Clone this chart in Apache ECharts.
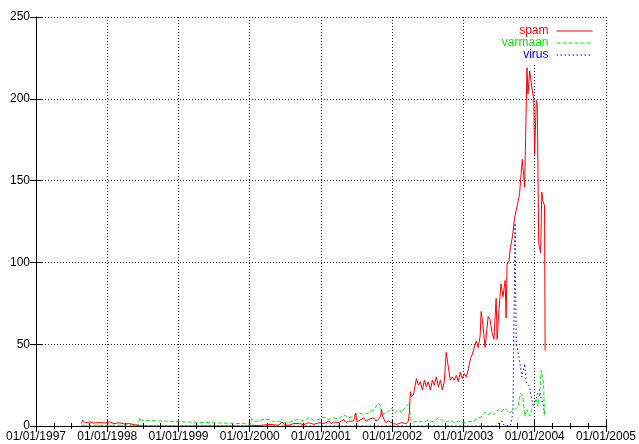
<!DOCTYPE html>
<html><head><meta charset="utf-8">
<script src="https://cdn.jsdelivr.net/npm/echarts@6/dist/echarts.min.js"></script>
<style>html,body{margin:0;padding:0;background:#fff}#c{width:639px;height:444px}</style>
</head><body><div id="c"></div>
<script>
const xTickLabels = ['01/01/1997','01/01/1998','01/01/1999','01/01/2000','01/01/2001','01/01/2002','01/01/2003','01/01/2004','01/01/2005'];
const yTickValues = [0, 50, 100, 150, 200, 250];
const seriesNames = ['spam', 'varmaan', 'virus'];

const spam = [
['1997-08-22',1.5],['1997-08-28',3.5],['1997-09-10',2],['1997-10-03',2.5],['1997-10-25',1.8],['1997-11-23',2.2],['1997-12-20',1.8],
['1998-01-13',2.5],['1998-02-05',1.5],['1998-03-05',2],['1998-04-01',1.2],['1998-04-25',1.5],['1998-05-20',0.8],['1998-06-15',0.3],['1998-07-01',0],
['1999-06-01',0],['1999-12-20',0],['2000-01-13',0.5],['2000-02-17',0.2],['2000-04-10',1],['2000-05-31',0.5],['2000-06-15',2.5],['2000-06-29',0.5],
['2000-07-21',0.5],['2000-08-15',1.5],['2000-09-10',1.5],['2000-10-05',0.8],['2000-10-31',2],['2000-11-25',1],['2000-12-21',2],
['2001-01-16',1.5],['2001-02-10',3],['2001-02-24',1.5],['2001-03-07',2.5],['2001-04-02',2],['2001-04-27',4],['2001-05-10',2],['2001-05-23',3],
['2001-06-17',3],['2001-06-28',8],['2001-07-05',2.5],['2001-07-13',3],['2001-08-08',5],['2001-08-20',3],['2001-09-02',4],['2001-09-28',5],
['2001-10-10',3],['2001-10-23',4],['2001-11-02',6],['2001-11-08',10],['2001-11-13',6],['2001-11-28',2],['2001-12-13',3],
['2002-01-09',1.5],['2002-01-24',1],['2002-02-18',2],['2002-03-15',1.5],['2002-03-25',3],['2002-03-30',8],['2002-04-04',21],['2002-04-09',18],
['2002-04-20',19],['2002-04-27',18],['2002-05-05',29],['2002-05-15',25],['2002-05-25',27],['2002-06-05',22],['2002-06-15',28],['2002-06-25',24],
['2002-07-05',27],['2002-07-16',22],['2002-07-26',28],['2002-08-05',25],['2002-08-15',30],['2002-08-26',24],['2002-09-05',28],['2002-09-15',22],
['2002-09-25',27],['2002-10-05',45],['2002-10-16',36],['2002-10-26',28],['2002-11-05',30],['2002-11-15',28],['2002-11-26',31],['2002-12-06',27],
['2002-12-16',33],['2002-12-26',29],['2003-01-06',32],['2003-01-16',30],['2003-01-27',35],['2003-02-06',41],['2003-02-16',44],['2003-02-26',48],
['2003-03-08',52],['2003-03-18',48],['2003-03-28',55],['2003-04-02',70],['2003-04-12',61],['2003-04-22',48],['2003-05-08',67],['2003-05-18',65],
['2003-05-28',57],['2003-06-07',53],['2003-06-12',65],['2003-06-18',78],['2003-06-23',53],['2003-07-03',72],['2003-07-13',87],['2003-07-23',79],
['2003-08-03',89],['2003-08-08',66],['2003-08-13',99],['2003-08-23',101],['2003-08-30',109],['2003-09-10',116],['2003-09-20',127],['2003-09-29',128],
['2003-10-08',137],['2003-10-16',142],['2003-10-30',163],['2003-11-11',146],['2003-11-23',219],['2003-11-28',203],['2003-12-07',217],['2003-12-15',210],
['2003-12-23',203],['2003-12-28',200],['2004-01-01',166],['2004-01-10',199],['2004-01-15',196],['2004-01-22',112],['2004-02-01',106],['2004-02-07',143],
['2004-02-14',137],['2004-02-21',135],['2004-02-24',46]
];

const varmaan = [
['1997-08-22',0.5],['1998-02-01',0.5],['1998-06-10',0.5],['1998-06-15',5],['1998-06-25',3.5],['1999-01-05',2.6],['1999-11-15',1.5],['2000-01-06',1.3],
['2000-01-13',4.5],['2000-01-20',3],['2000-02-17',3],['2000-03-10',4],['2000-04-10',4],['2000-05-05',2.5],['2000-05-31',3],['2000-06-20',2],
['2000-07-21',2],['2000-08-15',3.5],['2000-09-10',4],['2000-10-05',3],['2000-10-31',5],['2000-11-25',3.5],['2000-12-21',4],
['2001-01-16',5.5],['2001-02-10',4],['2001-03-07',5],['2001-04-02',4.5],['2001-04-27',7],['2001-05-23',5],['2001-06-17',6],['2001-07-13',8],
['2001-08-08',7],['2001-09-02',8],['2001-09-28',10],['2001-10-23',14],['2001-11-02',12],['2001-11-08',7],['2001-11-28',8],['2001-12-13',9],
['2001-12-28',11],['2002-01-14',8],['2002-01-24',7],['2002-02-08',10],['2002-02-18',8],['2002-03-05',11],['2002-03-15',12],['2002-03-30',14],
['2002-04-04',4],['2002-04-20',2.5],['2002-05-15',3],['2002-06-10',2.5],['2002-07-05',3.5],['2002-07-31',2.5],['2002-08-26',5],['2002-09-20',3],
['2002-10-05',2.5],['2002-10-26',3.5],['2002-11-15',2],['2002-12-06',3],['2002-12-21',2],
['2003-01-11',2],['2003-01-27',2.5],['2003-02-21',3],['2003-03-18',5],['2003-04-02',5.5],['2003-04-22',8.5],['2003-05-08',7],['2003-05-23',8],
['2003-06-07',7],['2003-06-28',10],['2003-07-13',8.5],['2003-08-03',11],['2003-08-23',8],['2003-09-07',9],['2003-09-23',10],['2003-10-08',12],
['2003-10-21',20],['2003-11-02',18],['2003-11-11',6],['2003-11-23',10],['2003-12-07',6],['2003-12-23',12],['2004-01-10',16],['2004-01-18',12],
['2004-01-27',20],['2004-02-04',34],['2004-02-12',35],['2004-02-16',26],['2004-02-21',6]
];

const virus = [
['1997-08-22',0],['2002-09-25',0],['2002-10-05',1.5],['2002-10-16',0],['2003-06-18',0],['2003-06-28',1.5],['2003-07-08',0.5],['2003-07-18',3],
['2003-07-28',0.5],['2003-08-28',0],['2003-09-02',2],['2003-09-12',8],['2003-09-23',124],['2003-09-29',51],['2003-10-16',40],['2003-10-28',30],
['2003-11-11',38],['2003-11-19',27],['2003-12-07',24],['2003-12-15',18],['2003-12-23',13],['2004-01-05',15],['2004-01-18',20],['2004-01-27',22],
['2004-02-04',17],['2004-02-16',12],['2004-02-21',6]
];

const DAY = 86400000;
const T0 = Date.UTC(1997, 0, 1);
function toDays(rows) { return rows.map(r => [(Date.parse(r[0]) - T0) / DAY, r[1]]); }

const YEAR = 365.25;
const font = 'Liberation Sans, Arial, Helvetica, sans-serif';

const xBase = {
  type: 'value', min: 0, max: YEAR * 8, interval: YEAR,
  axisLine: { show: true, lineStyle: { color: '#000', width: 1 } },
  axisTick: { show: true, inside: true, length: 6, lineStyle: { color: '#000' } },
  minorTick: { show: true, splitNumber: 4, length: 3, lineStyle: { color: '#000' } },
  minorSplitLine: { show: false }
};
const yBase = {
  type: 'value', min: 0, max: 250, interval: 50,
  axisLine: { show: true, lineStyle: { color: '#000', width: 1 } },
  axisTick: { show: true, inside: true, length: 6, lineStyle: { color: '#000' } }
};
const gridLine = { show: true, lineStyle: { color: '#222', width: 1, type: [1, 2] } };

const colors = ['#ff0000', '#00f000', '#0000ff'];
const dashTypes = ['solid', [4, 2], [1.5, 2.5]];
const datasets = [spam, varmaan, virus];

const chart = echarts.init(document.getElementById('c'), null, { renderer: 'canvas' });
chart.setOption({
  animation: false,
  backgroundColor: '#fff',
  grid: { left: 36, right: 31, top: 17, bottom: 18, show: false },
  legend: {
    orient: 'vertical', right: 46, top: 18, align: 'right', padding: [7, 0, 2, 0],
    backgroundColor: '#fff', z: 4,
    itemWidth: 36, itemHeight: 10, itemGap: 0,
    itemStyle: { opacity: 0 },
    lineStyle: { width: 1, inactiveWidth: 1 },
    textStyle: { fontFamily: font, fontSize: 12, lineHeight: 12, padding: [0, 3, 0, 0] },
    data: seriesNames.map((n, i) => ({ name: n, textStyle: { color: colors[i] } }))
  },
  xAxis: [
    Object.assign({}, xBase, {
      position: 'bottom',
      splitLine: gridLine,
      axisLabel: {
        show: true, margin: 5, color: '#000', fontFamily: font, fontSize: 12,
        showMinLabel: true, showMaxLabel: true,
        formatter: v => xTickLabels[Math.round(v / YEAR)]
      }
    }),
    Object.assign({}, xBase, { position: 'top', z: 6, splitLine: { show: false }, axisLabel: { show: false } })
  ],
  yAxis: [
    Object.assign({}, yBase, {
      position: 'left',
      splitLine: gridLine,
      axisLabel: { show: true, margin: 6, color: '#000', fontFamily: font, fontSize: 12,
        formatter: v => String(yTickValues[Math.round(v / 50)]) }
    }),
    Object.assign({}, yBase, { position: 'right', z: 6, splitLine: { show: false }, axisLabel: { show: false } })
  ],
  series: seriesNames.map((n, i) => ({
    name: n, type: 'line', xAxisIndex: 0, yAxisIndex: 0,
    data: toDays(datasets[i]), showSymbol: false, symbol: 'none',
    color: colors[i],
    lineStyle: { color: colors[i], width: 1, type: dashTypes[i] },
    z: 3 - i
  }))
});
</script></body></html>
